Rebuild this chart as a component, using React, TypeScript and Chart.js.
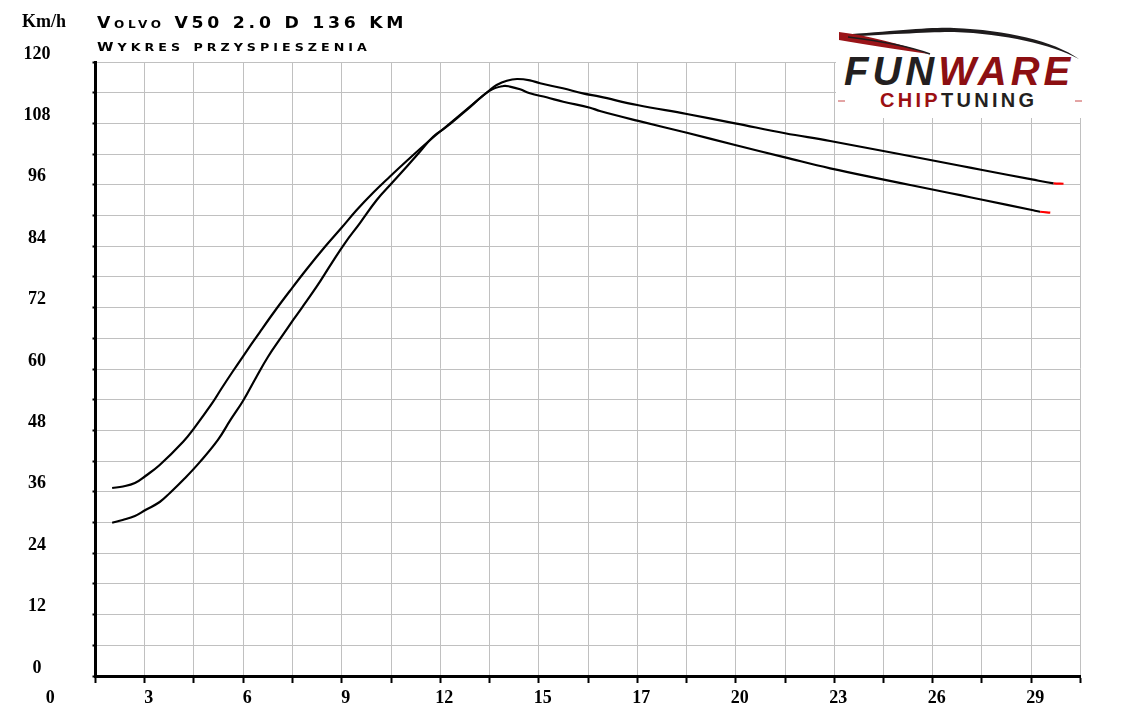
import React, { useEffect, useRef } from 'react';
import { Chart, registerables } from 'chart.js';

Chart.register(...registerables);

// ---- Data (time in s, speed in km/h) ----
const X_LABELS = ['0', '3', '6', '9', '12', '15', '17', '20', '23', '26', '29'];
const Y_LABELS = ['0', '12', '24', '36', '48', '60', '72', '84', '96', '108', '120'];
const Y_TITLE = 'Km/h';
const TITLE_LINE_1 = 'Volvo V50 2.0 D 136 KM';
const TITLE_LINE_2 = 'Wykres przyspieszenia';

const X_MIN = 1.45;
const X_STEP = 1.45;
const X_GRID_COUNT = 21;
const X_MAX = X_MIN + X_STEP * (X_GRID_COUNT - 1);
const Y_MIN = 0;
const Y_MAX = 120;
const Y_STEP = 6;

const TIME_A = [1.94, 2.26, 2.61, 2.92, 3.34, 4.03, 4.35, 4.87, 5.16, 5.5, 5.8, 6.29, 6.73, 7.17, 7.66, 8.2, 8.7, 9.14, 9.63, 10.12, 10.61, 11.1, 11.49, 11.74, 12.39, 13.06, 13.26, 13.56, 13.86, 14.24, 14.54, 15.21, 15.8, 16.3, 17.4, 18.86, 20.28, 21.75, 23.08, 26.91, 27.56, 29.02, 29.66, 29.95];
const SPEED_A = [36.74, 37.04, 37.72, 39.09, 41.24, 45.79, 48.41, 53.16, 56.19, 59.61, 62.54, 67.23, 71.34, 75.24, 79.45, 83.84, 87.65, 91.07, 94.49, 97.62, 100.65, 103.58, 105.83, 107.2, 110.81, 114.53, 115.5, 116.34, 116.68, 116.42, 115.84, 114.86, 113.88, 113.22, 111.6, 109.84, 108.02, 106.07, 104.56, 99.73, 98.89, 97.05, 96.29, 96.21];

const TIME_B = [1.94, 2.25, 2.61, 2.92, 3.34, 3.64, 4.08, 4.52, 5.06, 5.41, 5.8, 6.19, 6.53, 6.93, 7.27, 7.52, 7.96, 8.4, 8.79, 9.23, 9.73, 10.17, 10.61, 11.0, 11.39, 11.74, 12.39, 13.06, 13.46, 13.65, 13.95, 14.24, 14.73, 15.22, 16.01, 16.3, 17.4, 18.86, 20.28, 21.75, 23.08, 26.91, 27.56, 29.02, 29.26, 29.56];
const SPEED_B = [29.96, 30.49, 31.27, 32.44, 34.01, 35.77, 38.64, 41.8, 46.2, 49.9, 53.84, 58.49, 62.4, 66.31, 69.58, 71.92, 76.08, 80.66, 84.57, 88.47, 93.03, 96.29, 99.54, 102.47, 105.4, 107.1, 110.7, 114.4, 115.31, 115.2, 114.66, 113.88, 113.1, 112.24, 111.07, 110.42, 108.53, 106.18, 103.78, 101.37, 99.22, 93.97, 93.07, 91.07, 90.74, 90.55];

const SERIF = '"Liberation Serif", "Times New Roman", serif';
const X_LABEL_SHIFT = 4;

function makeDataset(times: number[], speeds: number[]) {
  const last = times.length - 1;
  return {
    data: times.map((t, i) => ({ x: t, y: speeds[i] })),
    borderColor: '#000000',
    borderWidth: 2.2,
    pointRadius: 0,
    fill: false,
    tension: 0.4,
    segment: {
      borderColor: (c: any) => (c.p1DataIndex === last ? '#ff0000' : '#000000'),
    },
  };
}

// Renders text in small caps: lowercase letters become smaller capitals.
function SmallCaps({ text, big, small }: { text: string; big: number; small: number }) {
  return (
    <>
      {Array.from(text).map((ch, i) => {
        const isLower = ch !== ch.toUpperCase();
        return (
          <span key={i} style={{ fontSize: isLower ? small : big }}>
            {isLower ? ch.toUpperCase() : ch}
          </span>
        );
      })}
    </>
  );
}

export default function App() {
  const ref = useRef<HTMLCanvasElement>(null);

  useEffect(() => {
    const canvas = ref.current;
    if (!canvas) return;
    const extraLabels = {
      id: 'extraLabels',
      afterDraw(chart: any) {
        const ctx = chart.ctx;
        const xs = chart.scales.x;
        const ys = chart.scales.y;
        ctx.save();
        ctx.font = `bold 18px ${SERIF}`;
        ctx.fillStyle = '#000';
        ctx.textAlign = 'center';
        ctx.textBaseline = 'middle';
        ctx.fillText(X_LABELS[0], xs.getPixelForValue(0) + X_LABEL_SHIFT, xs.top + 7 + 5 + 10.8);
        ctx.fillText(Y_TITLE, 44, ys.getPixelForValue(Y_MAX) - 40);
        ctx.restore();
      },
    };

    const gridOpts = {
      color: '#c0c0c0',
      lineWidth: 1,
      tickColor: '#000000',
      tickWidth: 2,
    };
    const tickFont = { family: SERIF, size: 18, weight: 'bold' as const };

    const chart = new Chart(canvas, {
      type: 'line',
      data: { datasets: [makeDataset(TIME_A, SPEED_A), makeDataset(TIME_B, SPEED_B)] as any },
      options: {
        responsive: false,
        animation: false,
        layout: { padding: { top: 62, right: 50.5, left: 0, bottom: 0 } },
        plugins: { legend: { display: false }, tooltip: { enabled: false }, title: { display: false } },
        scales: {
          x: {
            type: 'linear',
            min: X_MIN,
            max: X_MAX,
            afterBuildTicks: (ax: any) => {
              ax.ticks = Array.from({ length: X_GRID_COUNT }, (_, i) => ({ value: X_MIN + i * X_STEP }));
            },
            afterFit: (s: any) => {
              s.height = 33;
              s.paddingLeft = 0;
              s.paddingRight = 0;
            },
            grid: { ...gridOpts, tickLength: 7 },
            border: { color: '#000000', width: 3 },
            ticks: {
              autoSkip: false,
              maxRotation: 0,
              padding: 5,
              labelOffset: X_LABEL_SHIFT,
              color: '#000',
              font: tickFont,
              callback: (_v: any, i: number) => (i % 2 === 1 ? X_LABELS[(i + 1) / 2] : ''),
            },
          },
          y: {
            type: 'linear',
            min: Y_MIN,
            max: Y_MAX,
            afterFit: (s: any) => {
              s.width = 95.5;
              s.paddingTop = 0;
              s.paddingBottom = 0;
            },
            grid: { ...gridOpts, tickLength: 3 },
            border: { color: '#000000', width: 3 },
            ticks: {
              stepSize: Y_STEP,
              autoSkip: false,
              padding: 42,
              crossAlign: 'center',
              labelOffset: -8,
              color: '#000',
              font: tickFont,
              callback: (v: any) => (Number(v) % 12 === 0 ? Y_LABELS[Number(v) / 12] : ''),
            },
          },
        },
      },
      plugins: [extraLabels],
    });
    return () => chart.destroy();
  }, []);

  const titleBase: React.CSSProperties = {
    position: 'absolute',
    left: 97,
    fontFamily: '"DejaVu Sans", sans-serif',
    fontWeight: 'bold',
    transform: 'scaleX(1.15)',
    transformOrigin: 'left top',
    whiteSpace: 'nowrap',
    color: '#000',
  };

  return (
    <div style={{ position: 'absolute', left: 0, top: 0, width: 1131, height: 709, background: '#fff', overflow: 'hidden' }}>
      <canvas ref={ref} width={1131} height={709} style={{ display: 'block', position: 'absolute', left: 0, top: 0 }} />
      <div style={{ ...titleBase, top: 15.6, fontSize: 15, lineHeight: '15px', letterSpacing: '3.25px' }}>
        <SmallCaps text={TITLE_LINE_1} big={15} small={10.5} />
      </div>
      <div style={{ ...titleBase, top: 39.7, fontSize: 13, lineHeight: '13px', letterSpacing: '3.5px' }}>
        <SmallCaps text={TITLE_LINE_2} big={13} small={11} />
      </div>
      <div style={{ position: 'absolute', left: 836, top: 25, width: 250, height: 93, background: '#fff' }}>
        <svg width={250} height={93} style={{ position: 'absolute', left: 0, top: 0 }}>
          <path d="M 4 10 C 60 6, 95 2, 118 3 C 170 5, 218 16, 243 34 C 214 19, 170 9, 118 7 C 95 7, 60 9, 4 12 Z" fill="#1e1b1c" />
          <path d="M 3 7 C 30 10, 65 19, 93 29 C 60 24, 30 20, 3 15 Z" fill="#9a1418" />
          <path d="M 12 12 C 45 16, 75 22, 94 29" stroke="#1e1b1c" strokeWidth={1.5} fill="none" />
          <line x1={2} y1={76} x2={9} y2={76} stroke="#c84a4a" strokeWidth={1} />
          <line x1={239} y1={76} x2={246} y2={76} stroke="#c84a4a" strokeWidth={1} />
        </svg>
        <div
          style={{
            position: 'absolute', left: 8, top: 26.15, fontFamily: '"Liberation Sans", Arial, sans-serif',
            fontWeight: 'bold', fontStyle: 'italic', fontSize: 40, lineHeight: '40px', letterSpacing: '4px', whiteSpace: 'nowrap',
          }}
        >
          <span style={{ color: '#231f20' }}>FUN</span>
          <span style={{ color: '#8c0f12' }}>WARE</span>
        </div>
        <div
          style={{
            position: 'absolute', left: 44, top: 65.4, fontFamily: '"Liberation Sans", Arial, sans-serif',
            fontWeight: 'bold', fontSize: 20, lineHeight: '20px', letterSpacing: '3.3px', whiteSpace: 'nowrap',
          }}
        >
          <span style={{ color: '#9b0f12' }}>CHIP</span>
          <span style={{ color: '#231f20' }}>TUNING</span>
        </div>
      </div>
    </div>
  );
}
